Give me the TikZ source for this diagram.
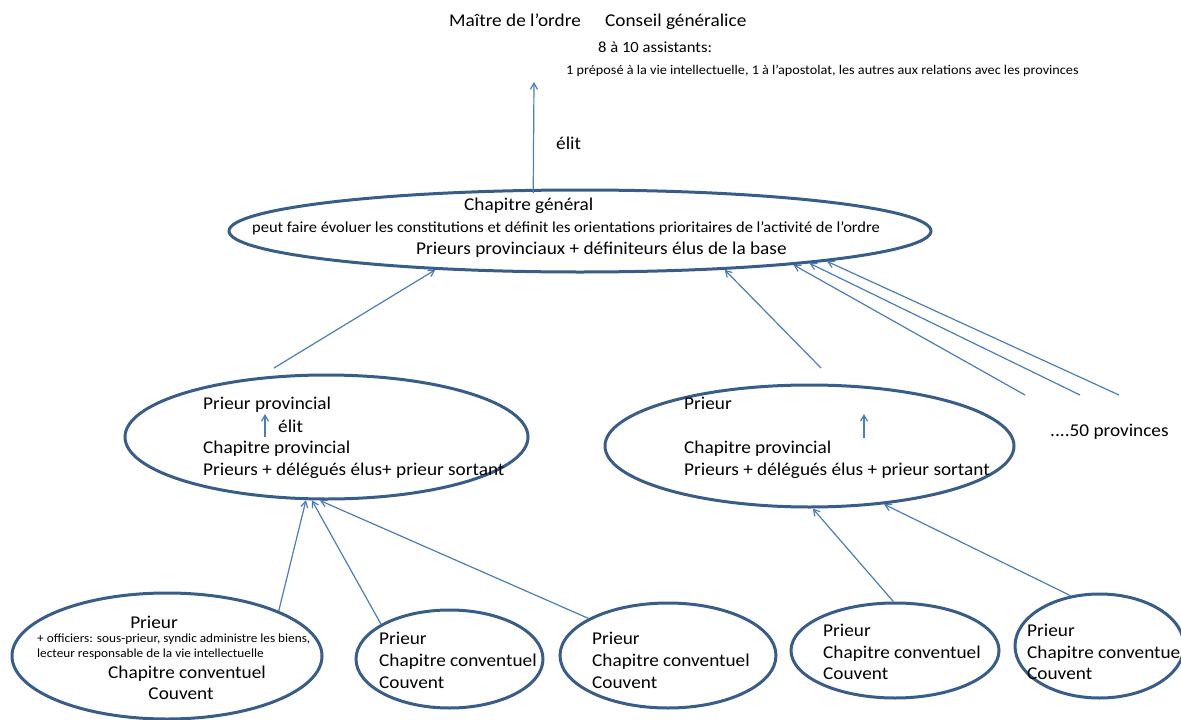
\documentclass[tikz,border=0pt]{standalone}
\usepackage{fontspec}
\setmainfont{Carlito}[FakeStretch=1.07]
\usetikzlibrary{shapes.geometric,arrows.meta}
\definecolor{ellc}{HTML}{385D8A}
\definecolor{arrc}{HTML}{4A7EBB}
\begin{document}
\begin{tikzpicture}[x=1pt,y=-1pt,
  ell/.style={ellipse, draw=ellc, line width=3pt, inner sep=0pt},
  arr/.style={draw=arrc, line width=1.2pt, -{Straight Barb[angle=60:7pt]}},
  txt/.style={inner sep=0pt, anchor=base west, font=\fontsize{18}{20}\selectfont},
  ctxt/.style={inner sep=0pt, anchor=base, font=\fontsize{18}{20}\selectfont},
  smalltxt/.style={inner sep=0pt, anchor=base west, font=\fontsize{#1}{#1}\selectfont}]
\useasboundingbox (0,0) rectangle (1181,720);

% ellipses
\node[ell, minimum width=702pt, minimum height=82pt] (gen) at (580,231) {};
\node[ell, minimum width=403pt, minimum height=124pt] (lp) at (326.5,437) {};
\node[ell, minimum width=409pt, minimum height=122pt] (rp) at (809.5,446) {};
\node[ell, minimum width=310pt, minimum height=126pt] (e1) at (167,656) {};
\node[ell, minimum width=187pt, minimum height=98pt] (e2) at (449.5,659) {};
\node[ell, minimum width=216pt, minimum height=105pt] (e3) at (668,655.5) {};
\node[ell, minimum width=208pt, minimum height=95pt] (e4) at (895,650.5) {};
\node[ell, minimum width=169pt, minimum height=104pt] (e5) at (1099.5,646) {};

% top texts
\node[txt] (maitre) at (449,27) {Maître de l’ordre};
\node[txt] (conseil) at (605,27) {Conseil généralice};
\node[smalltxt=15.5] (assist) at (598,52) {8 à 10 assistants:};
\node[smalltxt=13.3] (prepose) at (566,74) {1 préposé à la vie intellectuelle, 1 à l’apostolat, les autres aux relations avec les provinces};
\node[txt] (elit) at (556,149) {élit};

% general chapter texts
\node[txt] (cg) at (464,210) {Chapitre général};
\node[smalltxt=15.4] (cgdesc) at (252,232) {peut faire évoluer les constitutions et définit les orientations prioritaires de l’activité de l’ordre};
\node[txt] (cgmem) at (416,254) {Prieurs provinciaux + définiteurs élus de la base};

% left province
\node[txt] (lpp) at (203,409) {Prieur provincial};
\node[txt] (lpelit) at (278,432) {élit};
\node[txt] (lpc) at (203,453) {Chapitre provincial};
\node[txt] (lpm) at (203,475) {Prieurs + délégués élus+ prieur sortant};

% right province
\node[txt] (rpp) at (684,409) {Prieur};
\node[txt] (rpc) at (684,453) {Chapitre provincial};
\node[txt] (rpm) at (684,475) {Prieurs + délégués élus + prieur sortant};

\node[txt] (fifty) at (1050,436) {....50 provinces};

% convent 1
\node[ctxt] (e1p) at (154,628) {Prieur};
\node[smalltxt=12.4] (e1o) at (37,642) {+ officiers: sous-prieur, syndic administre les biens,};
\node[smalltxt=12.4] (e1l) at (37,657) {lecteur responsable de la vie intellectuelle};
\node[ctxt] (e1c) at (187,678) {Chapitre conventuel};
\node[ctxt] (e1v) at (181,699) {Couvent};

% convents 2-5
\node[txt] (e2p) at (379,644) {Prieur};
\node[txt] (e2c) at (379,666) {Chapitre conventuel};
\node[txt] (e2v) at (379,688) {Couvent};
\node[txt] (e3p) at (592,644) {Prieur};
\node[txt] (e3c) at (592,666) {Chapitre conventuel};
\node[txt] (e3v) at (592,688) {Couvent};
\node[txt] (e4p) at (823,636) {Prieur};
\node[txt] (e4c) at (823,658) {Chapitre conventuel};
\node[txt] (e4v) at (823,679) {Couvent};
\node[txt] (e5p) at (1027,636) {Prieur};
\node[txt] (e5c) at (1027,658) {Chapitre conventuel};
\node[txt] (e5v) at (1027,679) {Couvent};

% free ends
\coordinate (topend) at (534,82);
\coordinate (lpfrom) at (274,368);
\coordinate (rpfrom) at (821,368);
\coordinate (pa) at (1025,395);
\coordinate (pb) at (1080,395);
\coordinate (pc) at (1119,395);
\coordinate (lpa1) at (265,437);
\coordinate (lpa2) at (265,414);
\coordinate (rpa1) at (864,438);
\coordinate (rpa2) at (864,414);

% connectors
\draw[arr] ([yshift=-4pt]gen.138.6) -- (topend);
\draw[arr] (lpfrom) -- (gen.195);
\draw[arr] (rpfrom) -- (gen.345);
\draw[arr] (pa) -- (gen.351.6);
\draw[arr] (pb) -- (gen.352);
\draw[arr] (pc) -- (gen.353.6);
\draw[arr] (lpa1) -- (lpa2);
\draw[arr] (rpa1) -- (rpa2);
\draw[arr] (e1.22.7) -- (lp.252.5);
\draw[arr] (e2.153.3) -- (lp.257.7);
\draw[arr] (e3.155.6) -- (lp.264);
\draw[arr] (e4.92.4) -- (rp.273.3);
\draw[arr] (e5.120) -- (rp.322.7);
\end{tikzpicture}
\end{document}
